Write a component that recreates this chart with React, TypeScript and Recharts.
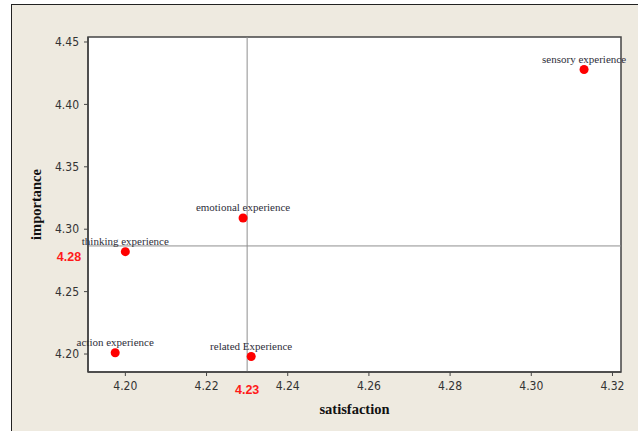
import React from 'react';
import {
  ScatterChart, Scatter, XAxis, YAxis, CartesianGrid, ReferenceLine, ReferenceArea, LabelList,
} from 'recharts';

const names = [
  'sensory experience',
  'emotional experience',
  'thinking experience',
  'action experience',
  'related Experience',
];
const satisfaction = [4.313, 4.229, 4.2, 4.1975, 4.231];
const importance = [4.428, 4.309, 4.282, 4.201, 4.198];

const xTicks = [4.2, 4.22, 4.24, 4.26, 4.28, 4.3, 4.32];
const yTicks = [4.2, 4.25, 4.3, 4.35, 4.4, 4.45];
const xDomain = [4.1908, 4.3221];
const yDomain = [4.1856, 4.454];

const meanSatisfaction = 4.23;
const meanImportance = 4.2866;
const meanImportanceLabel = '4.28';
const meanSatisfactionLabel = '4.23';

const data = names.map((name, i) => ({ name, x: satisfaction[i], y: importance[i] }));

const tickStyle = { fontFamily: '"DejaVu Sans Condensed", "Liberation Sans", sans-serif', fontSize: 12, fill: '#333' };
const titleStyle = { fontFamily: '"Liberation Serif", serif', fontSize: 14.5, fontWeight: 700, fill: '#111' };

const PointLabel = (props: any) => {
  const { x, y, width, value } = props;
  return (
    <text
      x={x + width / 2}
      y={y - 2}
      textAnchor="middle"
      fontFamily='"Liberation Serif", serif'
      fontSize={11}
      fill="#2e2e3a"
    >
      {value}
    </text>
  );
};

const HLabel = (props: any) => {
  const { viewBox } = props;
  return (
    <text
      x={viewBox.x - 19}
      y={viewBox.y + 15}
      textAnchor="middle"
      fontFamily='"Liberation Sans", sans-serif'
      fontSize={12.5}
      fontWeight={700}
      fill="#ff1a1a"
    >
      {meanImportanceLabel}
    </text>
  );
};

const VLabel = (props: any) => {
  const { viewBox } = props;
  return (
    <text
      x={viewBox.x}
      y={viewBox.y + viewBox.height + 22}
      textAnchor="middle"
      fontFamily='"Liberation Sans", sans-serif'
      fontSize={12.5}
      fontWeight={700}
      fill="#ff1a1a"
    >
      {meanSatisfactionLabel}
    </text>
  );
};

export default function App() {
  return (
    <div style={{ position: 'absolute', left: 0, top: 0, width: 638, height: 431, background: '#fff', overflow: 'hidden' }}>
      <div
        style={{
          position: 'absolute', left: 11, top: 4, width: 627, height: 427,
          background: '#eeeae0', borderLeft: '1.5px solid #222', borderTop: '1.5px solid #222', boxSizing: 'border-box',
        }}
      />
      <div style={{ position: 'absolute', left: 0, top: 0 }}>
        <ScatterChart width={638} height={431} margin={{ top: 37, right: 17, bottom: 14, left: 0 }}>
          <CartesianGrid horizontal={false} vertical={false} fill="#fff" />
          <XAxis
            type="number"
            dataKey="x"
            domain={xDomain}
            ticks={xTicks}
            tickFormatter={(v: number) => v.toFixed(2)}
            allowDataOverflow
            height={45}
            tick={tickStyle}
            tickSize={4}
            tickMargin={5}
            axisLine={{ stroke: '#444', strokeWidth: 1.5 }}
            tickLine={{ stroke: '#444' }}
            label={{ value: 'satisfaction', position: 'insideBottom', offset: 3, style: titleStyle }}
          />
          <YAxis
            type="number"
            dataKey="y"
            domain={yDomain}
            ticks={yTicks}
            tickFormatter={(v: number) => v.toFixed(2)}
            allowDataOverflow
            width={88}
            tick={tickStyle}
            tickSize={4}
            tickMargin={5}
            axisLine={{ stroke: '#444', strokeWidth: 1.5 }}
            tickLine={{ stroke: '#444' }}
            label={{ value: 'importance', angle: -90, position: 'insideLeft', offset: 36, style: { ...titleStyle, textAnchor: 'middle' } }}
          />
          <ReferenceArea
            x1={xDomain[0]}
            x2={xDomain[1]}
            y1={yDomain[0]}
            y2={yDomain[1]}
            fill="none"
            stroke="#444"
            strokeWidth={1.5}
            ifOverflow="visible"
          />
          <ReferenceLine x={meanSatisfaction} stroke="#8f8f8f" strokeWidth={1} label={<VLabel />} />
          <ReferenceLine y={meanImportance} stroke="#8f8f8f" strokeWidth={1} label={<HLabel />} />
          <Scatter data={data} fill="#ff0000" isAnimationActive={false}>
            <LabelList dataKey="name" content={<PointLabel />} />
          </Scatter>
        </ScatterChart>
      </div>
    </div>
  );
}
